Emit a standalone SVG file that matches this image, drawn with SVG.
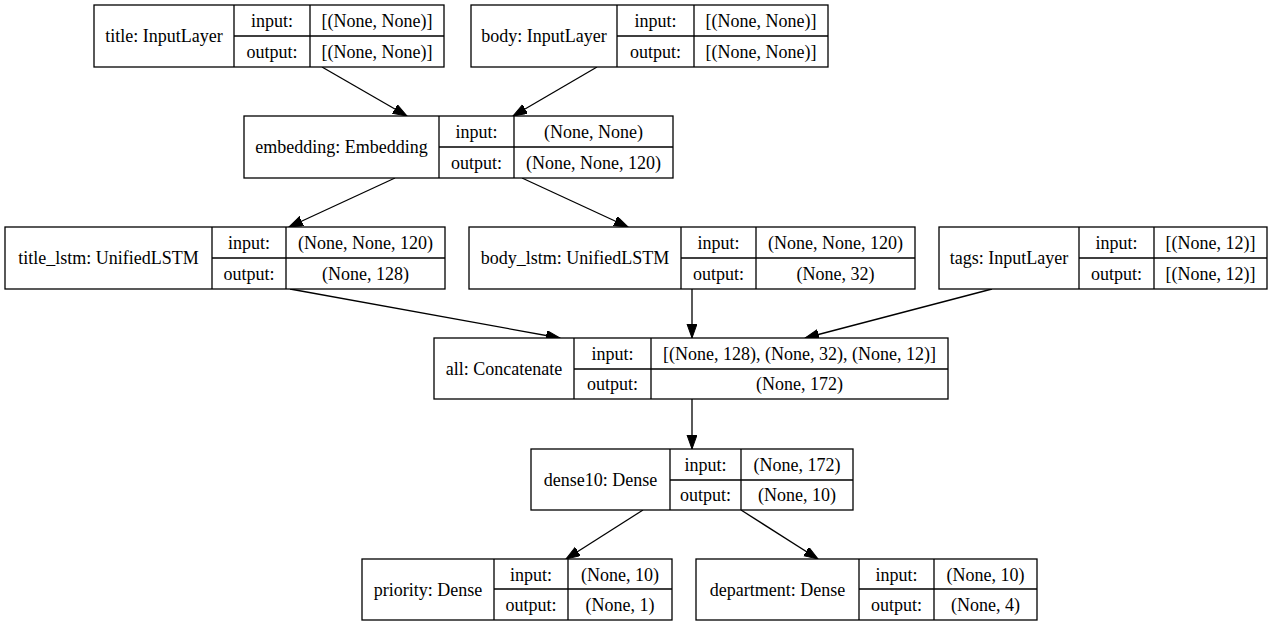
<svg xmlns="http://www.w3.org/2000/svg" width="1275" height="627" viewBox="0 0 1275 627">
  <style>
    .box { fill: #ffffff; stroke: #000000; stroke-width: 1.3; }
    .sep { stroke: #000000; stroke-width: 1.3; fill: none; }
    .t { font-family: "Liberation Serif", "Times New Roman", serif; font-size: 18px; fill: #000000; text-anchor: middle; }
    .edge { stroke: #000000; stroke-width: 1.3; fill: none; marker-end: url(#arrow); }
  </style>
  <defs>
    <marker id="arrow" markerUnits="userSpaceOnUse" markerWidth="16" markerHeight="12" refX="14" refY="5" orient="auto">
      <path d="M0,0 L14,5 L0,10 Z" fill="#000000" stroke="#000000" stroke-width="1"/>
    </marker>
  </defs>

  <rect width="1275" height="627" fill="#ffffff"/>

  <!-- connectors -->
  <g id="edges">
    <path class="edge" d="M322,67 L407,116"/>
    <path class="edge" d="M597,67 L513,116"/>
    <path class="edge" d="M395,178 L289,227"/>
    <path class="edge" d="M522,178 L628,227"/>
    <path class="edge" d="M290,289 L560,338"/>
    <path class="edge" d="M692,289 L692,338"/>
    <path class="edge" d="M992,289 L805,338"/>
    <path class="edge" d="M692,399 L692,449"/>
    <path class="edge" d="M643,510 L566,559"/>
    <path class="edge" d="M741,510 L818,559"/>
  </g>

  <!-- title: InputLayer -->
  <g id="title">
    <rect class="box" x="94" y="5" width="350" height="62"/>
    <path class="sep" d="M234,5 V67 M310,5 V67 M234,36 H444"/>
    <text class="t" x="164" y="42">title: InputLayer</text>
    <text class="t" x="272" y="27">input:</text>
    <text class="t" x="272" y="58">output:</text>
    <text class="t" x="377" y="27">[(None, None)]</text>
    <text class="t" x="377" y="58">[(None, None)]</text>
  </g>

  <!-- body: InputLayer -->
  <g id="body">
    <rect class="box" x="471" y="5" width="357" height="62"/>
    <path class="sep" d="M617,5 V67 M694,5 V67 M617,36 H828"/>
    <text class="t" x="544" y="42">body: InputLayer</text>
    <text class="t" x="655.5" y="27">input:</text>
    <text class="t" x="655.5" y="58">output:</text>
    <text class="t" x="761" y="27">[(None, None)]</text>
    <text class="t" x="761" y="58">[(None, None)]</text>
  </g>

  <!-- embedding: Embedding -->
  <g id="embedding">
    <rect class="box" x="244" y="116" width="429" height="62"/>
    <path class="sep" d="M439,116 V178 M514,116 V178 M439,147 H673"/>
    <text class="t" x="341.5" y="153">embedding: Embedding</text>
    <text class="t" x="476.5" y="138">input:</text>
    <text class="t" x="476.5" y="169">output:</text>
    <text class="t" x="593.5" y="138">(None, None)</text>
    <text class="t" x="593.5" y="169">(None, None, 120)</text>
  </g>

  <!-- title_lstm: UnifiedLSTM -->
  <g id="title_lstm">
    <rect class="box" x="5" y="227" width="440" height="62"/>
    <path class="sep" d="M212,227 V289 M286,227 V289 M212,258 H445"/>
    <text class="t" x="108.5" y="264">title_lstm: UnifiedLSTM</text>
    <text class="t" x="249" y="249">input:</text>
    <text class="t" x="249" y="280">output:</text>
    <text class="t" x="365.5" y="249">(None, None, 120)</text>
    <text class="t" x="365.5" y="280">(None, 128)</text>
  </g>

  <!-- body_lstm: UnifiedLSTM -->
  <g id="body_lstm">
    <rect class="box" x="469" y="227" width="446" height="62"/>
    <path class="sep" d="M681,227 V289 M756,227 V289 M681,258 H915"/>
    <text class="t" x="575" y="264">body_lstm: UnifiedLSTM</text>
    <text class="t" x="718.5" y="249">input:</text>
    <text class="t" x="718.5" y="280">output:</text>
    <text class="t" x="835.5" y="249">(None, None, 120)</text>
    <text class="t" x="835.5" y="280">(None, 32)</text>
  </g>

  <!-- tags: InputLayer -->
  <g id="tags">
    <rect class="box" x="939" y="227" width="328" height="62"/>
    <path class="sep" d="M1079,227 V289 M1154,227 V289 M1079,258 H1267"/>
    <text class="t" x="1009" y="264">tags: InputLayer</text>
    <text class="t" x="1116.5" y="249">input:</text>
    <text class="t" x="1116.5" y="280">output:</text>
    <text class="t" x="1210.5" y="249">[(None, 12)]</text>
    <text class="t" x="1210.5" y="280">[(None, 12)]</text>
  </g>

  <!-- all: Concatenate -->
  <g id="all">
    <rect class="box" x="434" y="338" width="514" height="61"/>
    <path class="sep" d="M574,338 V399 M651,338 V399 M574,369 H948"/>
    <text class="t" x="504" y="375">all: Concatenate</text>
    <text class="t" x="612.5" y="360">input:</text>
    <text class="t" x="612.5" y="390">output:</text>
    <text class="t" x="799.5" y="360">[(None, 128), (None, 32), (None, 12)]</text>
    <text class="t" x="799.5" y="390">(None, 172)</text>
  </g>

  <!-- dense10: Dense -->
  <g id="dense10">
    <rect class="box" x="531" y="449" width="322" height="61"/>
    <path class="sep" d="M670,449 V510 M741,449 V510 M670,480 H853"/>
    <text class="t" x="600.5" y="486">dense10: Dense</text>
    <text class="t" x="705.5" y="471">input:</text>
    <text class="t" x="705.5" y="501">output:</text>
    <text class="t" x="797" y="471">(None, 172)</text>
    <text class="t" x="797" y="501">(None, 10)</text>
  </g>

  <!-- priority: Dense -->
  <g id="priority">
    <rect class="box" x="362" y="559" width="310" height="61"/>
    <path class="sep" d="M494,559 V620 M568,559 V620 M494,589 H672"/>
    <text class="t" x="428" y="596">priority: Dense</text>
    <text class="t" x="531" y="581">input:</text>
    <text class="t" x="531" y="611">output:</text>
    <text class="t" x="620" y="581">(None, 10)</text>
    <text class="t" x="620" y="611">(None, 1)</text>
  </g>

  <!-- department: Dense -->
  <g id="department">
    <rect class="box" x="696" y="559" width="341" height="61"/>
    <path class="sep" d="M859,559 V620 M934,559 V620 M859,589 H1037"/>
    <text class="t" x="777.5" y="596">department: Dense</text>
    <text class="t" x="896.5" y="581">input:</text>
    <text class="t" x="896.5" y="611">output:</text>
    <text class="t" x="985.5" y="581">(None, 10)</text>
    <text class="t" x="985.5" y="611">(None, 4)</text>
  </g>
</svg>
